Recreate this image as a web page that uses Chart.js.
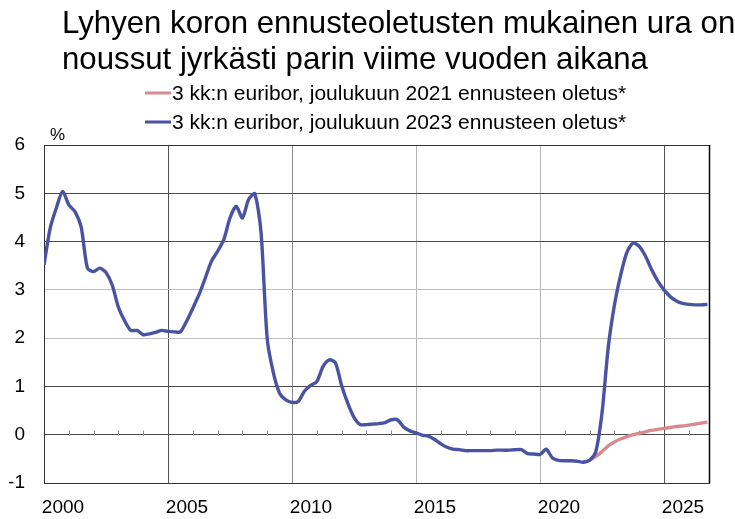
<!DOCTYPE html>
<html>
<head>
<meta charset="utf-8">
<script src="https://cdn.jsdelivr.net/npm/chart.js@4/dist/chart.umd.min.js"></script>
<style>
  html, body { margin: 0; padding: 0; background: #fff; }
  #wrap { width: 735px; height: 519px; }
</style>
</head>
<body>
<div id="wrap"><canvas id="c" width="735" height="519"></canvas></div>
<script>
// ---- Data (quarterly) ----
const titleLines = [
  "Lyhyen koron ennusteoletusten mukainen ura on",
  "noussut jyrkästi parin viime vuoden aikana"
];
const seriesNames = [
  "3 kk:n euribor, joulukuun 2021 ennusteen oletus*",
  "3 kk:n euribor, joulukuun 2023 ennusteen oletus*"
];
const yUnit = "%";
const yearLabels = [2000, 2005, 2010, 2015, 2020, 2025];
const years = [2000,2001,2002,2003,2004,2005,2006,2007,2008,2009,2010,2011,2012,
               2013,2014,2015,2016,2017,2018,2019,2020,2021,2022,2023,2024,2025,2026];
const quarterPos = [0, 0.25, 0.5, 0.75];

// 3 kk euribor, December 2023 forecast assumption (2000Q1 .. 2026Q4)
const euribor2023 = [
  3.52, 4.28, 4.70, 5.04,   // 2000
  4.76, 4.62, 4.30, 3.45,   // 2001
  3.38, 3.45, 3.36, 3.10,   // 2002
  2.64, 2.36, 2.16, 2.16,   // 2003
  2.07, 2.09, 2.12, 2.16,   // 2004
  2.14, 2.13, 2.13, 2.35,   // 2005
  2.62, 2.90, 3.24, 3.59,   // 2006
  3.80, 4.04, 4.49, 4.73,   // 2007
  4.49, 4.87, 4.99, 4.20,   // 2008
  1.99, 1.28, 0.86, 0.72,   // 2009
  0.67, 0.69, 0.90, 1.02,   // 2010
  1.10, 1.41, 1.55, 1.49,   // 2011
  1.02, 0.65, 0.36, 0.21,   // 2012
  0.21, 0.22, 0.23, 0.25,   // 2013
  0.31, 0.31, 0.16, 0.08,   // 2014
  0.04, -0.01, -0.03, -0.10,// 2015
  -0.19, -0.26, -0.30, -0.31,// 2016
  -0.33, -0.33, -0.33, -0.33,// 2017
  -0.33, -0.32, -0.32, -0.32,// 2018
  -0.31, -0.31, -0.39, -0.40,// 2019
  -0.41, -0.30, -0.48, -0.53,// 2020
  -0.54, -0.54, -0.55, -0.57,// 2021
  -0.53, -0.35, 0.45, 1.80, // 2022
  2.68, 3.30, 3.77, 3.97,   // 2023
  3.90, 3.70, 3.42, 3.18,   // 2024
  3.00, 2.86, 2.77, 2.72,   // 2025
  2.70, 2.69, 2.69, 2.70    // 2026
];

// 3 kk euribor, December 2021 forecast assumption (2021Q4 .. 2026Q4)
const euribor2021Start = "2021Q4";
const euribor2021 = [
  -0.57,                    // 2021Q4
  -0.53, -0.45, -0.35, -0.23,// 2022
  -0.15, -0.09, -0.04, 0.00,// 2023
  0.03, 0.06, 0.09, 0.11,   // 2024
  0.13, 0.15, 0.17, 0.18,   // 2025
  0.20, 0.22, 0.24, 0.26    // 2026
];

// ---- Build point lists ----
const timeAxis = [];
years.forEach(y => quarterPos.forEach(q => timeAxis.push(y + q)));
const blueData = euribor2023.map((v, i) => ({ x: timeAxis[i], y: v }));
const startIdx = (parseInt(euribor2021Start.slice(0,4)) - years[0]) * 4 + (parseInt(euribor2021Start.slice(5)) - 1);
const pinkData = euribor2021.map((v, i) => ({ x: timeAxis[startIdx + i], y: v }));

const BLUE = '#4a53a3';
const PINK = '#d98a90';
const FONT = "'Liberation Sans', Arial, sans-serif";

const decorPlugin = {
  id: 'decor',
  beforeDatasetsDraw(chart) {
    const { ctx, chartArea: a, scales: { x, y } } = chart;
    ctx.save();
    // small year ticks on the zero line
    const y0 = Math.round(y.getPixelForValue(0)) + 0.5;
    ctx.strokeStyle = '#8a8a8a';
    ctx.lineWidth = 1;
    for (let yr = years[0] + 1; yr <= years[years.length - 1]; yr++) {
      if (yr % 5 === 0) continue;
      const px = Math.round(x.getPixelForValue(yr)) + 0.5;
      ctx.beginPath();
      ctx.moveTo(px, y0 - 5);
      ctx.lineTo(px, y0);
      ctx.stroke();
    }
    // plot frame
    ctx.strokeStyle = '#333';
    ctx.lineWidth = 1;
    ctx.beginPath();
    ctx.moveTo(Math.round(a.left) + 0.5, Math.round(a.top) + 0.5);
    ctx.lineTo(Math.round(a.right) + 0.5, Math.round(a.top) + 0.5);
    ctx.stroke();
    ctx.strokeStyle = '#000';
    ctx.lineWidth = 1.5;
    ctx.beginPath();
    ctx.moveTo(Math.round(a.right) + 0.5, Math.round(a.top));
    ctx.lineTo(Math.round(a.right) + 0.5, Math.round(a.bottom));
    ctx.stroke();
    ctx.restore();
  },
  afterDraw(chart) {
    const { ctx } = chart;
    ctx.save();
    ctx.fillStyle = '#000';
    ctx.textBaseline = 'alphabetic';
    ctx.textAlign = 'left';
    // title
    ctx.font = '31.2px ' + FONT;
    ctx.fillText(titleLines[0], 62, 33);
    ctx.fillText(titleLines[1], 62, 69);
    // legend
    ctx.font = '21px ' + FONT;
    const cols = [PINK, BLUE];
    const ly = [93, 122];
    for (let i = 0; i < 2; i++) {
      ctx.strokeStyle = cols[i];
      ctx.lineWidth = 3;
      ctx.beginPath();
      ctx.moveTo(145, ly[i]);
      ctx.lineTo(171, ly[i]);
      ctx.stroke();
      ctx.textBaseline = 'middle';
      ctx.fillText(seriesNames[i], 172, ly[i] + 1);
    }
    // unit
    ctx.font = '17px ' + FONT;
    ctx.textBaseline = 'alphabetic';
    ctx.fillText(yUnit, 50, 140);
    ctx.restore();
  }
};

const vGridColor = v => {
  if (v === 2005 || v === 2025) return '#555';
  if (v === 2010) return '#888';
  if (v === 2015 || v === 2020) return '#b5b5b5';
  return 'rgba(0,0,0,0)';
};
const hGridColor = v => {
  if (v === 3 || v === 2) return '#bdbdbd';
  if (v === -1 || v === 6) return 'rgba(0,0,0,0)';
  return '#4a4a4a';
};

new Chart(document.getElementById('c'), {
  type: 'line',
  data: {
    datasets: [
      { label: seriesNames[0], data: pinkData, borderColor: PINK, borderWidth: 3.4,
        pointRadius: 0, tension: 0.25, fill: false, order: 2 },
      { label: seriesNames[1], data: blueData, borderColor: BLUE, borderWidth: 3.4,
        pointRadius: 0, tension: 0.25, fill: false, order: 1 }
    ]
  },
  options: {
    responsive: false,
    devicePixelRatio: 1,
    animation: false,
    layout: { padding: { top: 145, right: 26, left: 0, bottom: 0 } },
    plugins: { legend: { display: false }, title: { display: false }, tooltip: { enabled: false } },
    scales: {
      x: {
        type: 'linear',
        min: 2000,
        max: 2000 + 665 / 24.8,
        afterFit: s => { s.height = 36; },
        afterBuildTicks: s => {
          const t = [];
          for (let yr = years[0]; yr <= years[years.length - 1]; yr++) t.push({ value: yr });
          s.ticks = t;
        },
        ticks: {
          autoSkip: false,
          maxRotation: 0,
          minRotation: 0,
          padding: 13,
          labelOffset: 19,
          color: '#000',
          font: { family: FONT, size: 19 },
          callback: v => yearLabels.includes(v) ? String(v) : ''
        },
        grid: {
          drawTicks: false,
          lineWidth: 1,
          color: ctx => vGridColor(ctx.tick ? ctx.tick.value : null)
        },
        border: { display: true, color: '#333', width: 1 }
      },
      y: {
        min: -1,
        max: 6,
        afterFit: s => { s.width = 44; },
        ticks: {
          stepSize: 1,
          padding: 19,
          color: '#000',
          font: { family: FONT, size: 19 }
        },
        grid: {
          drawTicks: false,
          lineWidth: 1,
          color: ctx => hGridColor(ctx.tick ? ctx.tick.value : null)
        },
        border: { display: true, color: '#333', width: 1 }
      }
    }
  },
  plugins: [decorPlugin]
});
</script>
</body>
</html>
